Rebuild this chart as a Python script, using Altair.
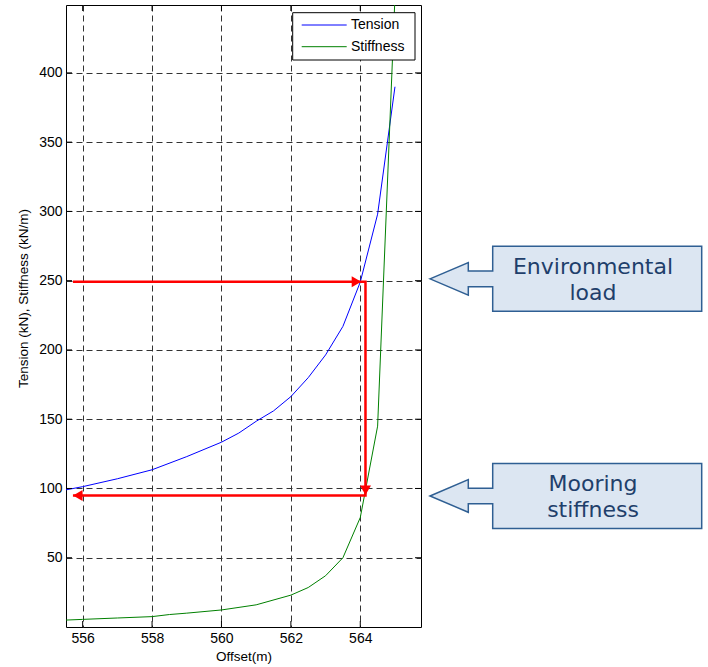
import altair as alt
import pandas as pd

# ---------------- data ----------------
tension_offset = [555.52, 556.0, 557.0, 558.0, 559.0, 560.0, 560.5, 561.0, 561.5,
                  562.0, 562.5, 563.0, 563.5, 564.0, 564.5, 565.0]
tension_value = [99.0, 101.3, 107.0, 113.5, 123.0, 133.4, 140.0, 148.5, 156.0,
                 166.3, 180.0, 196.4, 217.0, 249.0, 298.0, 390.0]

stiffness_offset = [555.52, 556.0, 557.0, 558.0, 558.5, 559.0, 560.0, 561.0, 562.0,
                    562.5, 563.0, 563.5, 564.0, 564.5, 565.0]
stiffness_value = [5.0, 5.5, 6.5, 7.5, 9.0, 10.0, 12.3, 16.0, 23.0,
                   28.5, 37.0, 50.0, 79.0, 145.0, 455.0]

series_names = ["Tension", "Stiffness"]
series_colors = ["#0000ff", "#008000"]

x_ticks = [556, 558, 560, 562, 564]
y_ticks = [50, 100, 150, 200, 250, 300, 350, 400]
x_domain = [555.52, 565.75]
y_domain = [0, 449]

# red arrow route (annotation)
route_offset = [555.72, 564.15, 564.15, 555.72]
route_value = [249.3, 249.3, 95.0, 95.0]
head_offset = [563.89, 564.15, 555.86]
head_value = [249.3, 98.75, 95.0]
head_shape = ["triangle-right", "triangle-down", "triangle-left"]

# callouts (annotation)
callout_value = [251.3, 94.6]
callout_text_top = ["Environmental", "Mooring"]
callout_text_bottom = ["load", "stiffness"]

W, H = 355, 622
FONT = "Liberation Sans"

# ---------------- tables ----------------
curves = pd.concat([
    pd.DataFrame({"offset": tension_offset, "value": tension_value,
                  "series": "Tension", "i": range(len(tension_offset))}),
    pd.DataFrame({"offset": stiffness_offset, "value": stiffness_value,
                  "series": "Stiffness", "i": range(len(stiffness_offset))}),
])
route = pd.DataFrame({"offset": route_offset, "value": route_value,
                      "i": range(len(route_offset))})
heads = pd.DataFrame({"offset": head_offset, "value": head_value, "shape": head_shape})
callouts = pd.DataFrame({"value": callout_value, "top": callout_text_top,
                         "bottom": callout_text_bottom})
xt = pd.DataFrame({"t": x_ticks})
yt = pd.DataFrame({"t": y_ticks})
one = pd.DataFrame({"k": [0]})

xs = alt.Scale(domain=x_domain, nice=False, zero=False)
ys = alt.Scale(domain=y_domain, nice=False, zero=False)

x_axis = alt.Axis(values=x_ticks, format="d", title="Offset(m)", grid=True,
                  gridDash=[6, 4], gridColor="#333333", gridWidth=1,
                  ticks=False, domain=False, labelPadding=4, titlePadding=4)
y_axis = alt.Axis(values=y_ticks, format="d", title="Tension (kN), Stiffness (kN/m)",
                  grid=True, gridDash=[6, 4], gridColor="#333333", gridWidth=1,
                  ticks=False, domain=False, labelPadding=4,
                  titleX=-43, titleY=293, titleBaseline="middle", titleAlign="center")

lines = alt.Chart(curves).mark_line(strokeWidth=1, clip=True).encode(
    x=alt.X("offset:Q", scale=xs, axis=x_axis),
    y=alt.Y("value:Q", scale=ys, axis=y_axis),
    color=alt.Color("series:N",
                    scale=alt.Scale(domain=series_names, range=series_colors),
                    legend=None),
    detail="series:N",
    order="i:Q",
)

route_line = alt.Chart(route).mark_line(color="#ff0000", strokeWidth=2.5, clip=True).encode(
    x=alt.X("offset:Q", scale=xs), y=alt.Y("value:Q", scale=ys), order="i:Q")

route_heads = alt.Chart(heads).mark_point(filled=True, color="#ff0000", size=121, opacity=1).encode(
    x=alt.X("offset:Q", scale=xs), y=alt.Y("value:Q", scale=ys),
    shape=alt.Shape("shape:N", scale=None))

# inward tick marks on all four sides
tick_bottom = alt.Chart(xt).mark_rule(color="black").encode(
    x=alt.X("t:Q", scale=xs), y=alt.value(H), y2=alt.value(H - 6))
tick_top = alt.Chart(xt).mark_rule(color="black").encode(
    x=alt.X("t:Q", scale=xs), y=alt.value(0), y2=alt.value(6))
tick_left = alt.Chart(yt).mark_rule(color="black").encode(
    y=alt.Y("t:Q", scale=ys), x=alt.value(0), x2=alt.value(6))
tick_right = alt.Chart(yt).mark_rule(color="black").encode(
    y=alt.Y("t:Q", scale=ys), x=alt.value(W), x2=alt.value(W - 6))

# legend box (drawn by hand, MATLAB style)
legend_box = alt.Chart(one).mark_rect(fill="white", stroke="black", strokeWidth=1).encode(
    x=alt.value(226.7), x2=alt.value(349), y=alt.value(7.7), y2=alt.value(55))
legend_layers = [legend_box]
for i, (name, col) in enumerate(zip(series_names, series_colors)):
    ly = 20 + 21.7 * i
    legend_layers.append(
        alt.Chart(one).mark_rule(color=col, strokeWidth=1).encode(
            x=alt.value(235.7), x2=alt.value(280.7), y=alt.value(ly)))
    legend_layers.append(
        alt.Chart(pd.DataFrame({"name": [name]})).mark_text(
            font=FONT, fontSize=14, color="black", align="left", baseline="middle").encode(
            x=alt.value(285), y=alt.value(ly), text="name:N"))

callout_path = ("M0,0 L0.383,-0.163 L0.383,-0.078 L0.627,-0.078 L0.627,-0.325 "
                "L2.717,-0.325 L2.717,0.325 L0.627,0.325 L0.627,0.078 L0.383,0.078 "
                "L0.383,0.163 Z")
callout_shape = alt.Chart(callouts).mark_point(
    shape=callout_path, size=40000, filled=True, fill="#dce6f2", fillOpacity=1,
    stroke="#2f5f93", strokeWidth=1.5, opacity=1, clip=False).encode(
    x=alt.value(364), y=alt.Y("value:Q", scale=ys))
callout_top = alt.Chart(callouts).mark_text(
    font="DejaVu Sans", fontSize=22, color="#1f3f6b", dy=-12, baseline="middle",
    align="center", clip=False).encode(
    x=alt.value(527), y=alt.Y("value:Q", scale=ys), text="top:N")
callout_bottom = alt.Chart(callouts).mark_text(
    font="DejaVu Sans", fontSize=22, color="#1f3f6b", dy=14, baseline="middle",
    align="center", clip=False).encode(
    x=alt.value(527), y=alt.Y("value:Q", scale=ys), text="bottom:N")

chart = alt.layer(
    lines, route_line, route_heads, tick_bottom, tick_top, tick_left, tick_right,
    *legend_layers, callout_shape, callout_top, callout_bottom,
).properties(
    width=W, height=H,
    autosize=alt.AutoSizeParams(type="none"),
    padding={"left": 66, "top": 5, "right": 287, "bottom": 40},
    background="white",
).configure_view(
    stroke="black", strokeWidth=1
).configure_axis(
    labelFont=FONT, labelFontSize=14, labelColor="black",
    titleFont=FONT, titleFontSize=13.5, titleColor="black", titleFontWeight="normal",
)

chart.save("out.html", embed_options={"renderer": "svg", "actions": False})
